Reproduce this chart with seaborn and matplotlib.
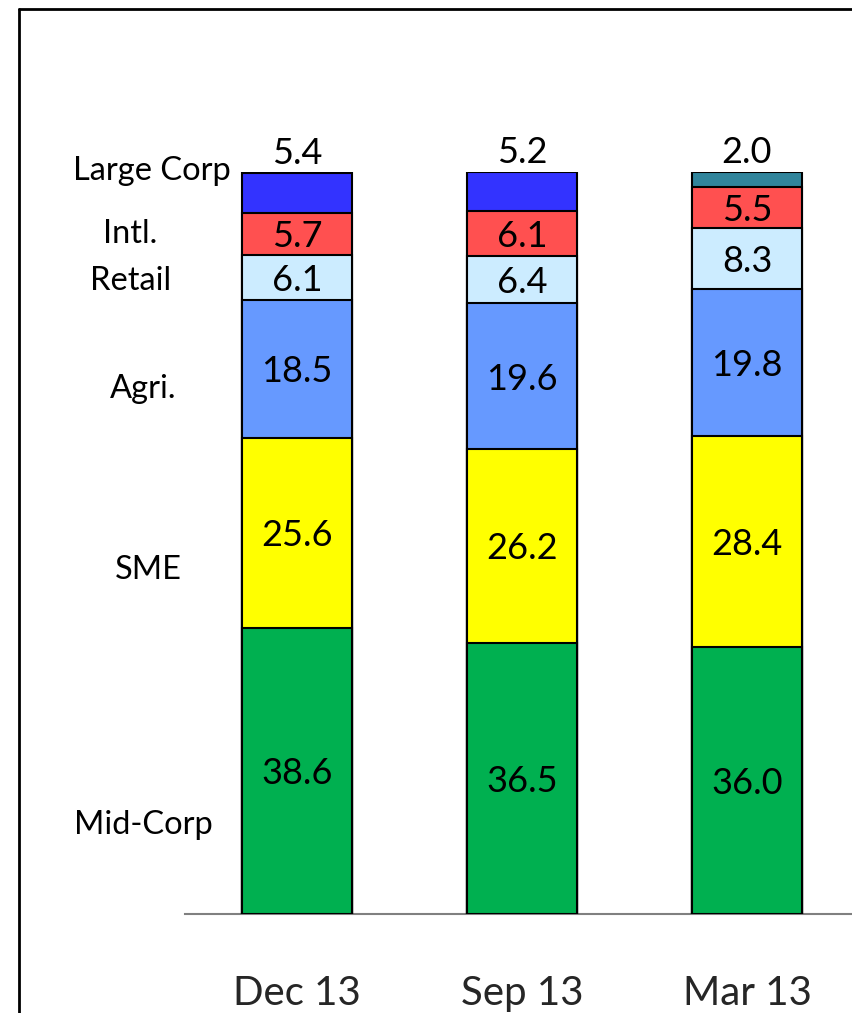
import numpy as np
import pandas as pd
import matplotlib
matplotlib.use("Agg")
import matplotlib.pyplot as plt
from matplotlib.lines import Line2D
import seaborn as sns

# Loan book mix by segment (% share), bottom segment first
periods = ["Dec 13", "Sep 13", "Mar 13"]
segments = ["Mid-Corp", "SME", "Agri.", "Retail", "Intl.", "Large Corp"]
mid_corp = [38.6, 36.5, 36.0]
sme = [25.6, 26.2, 28.4]
agri = [18.5, 19.6, 19.8]
retail = [6.1, 6.4, 8.3]
intl = [5.7, 6.1, 5.5]
large_corp = [5.4, 5.2, 2.0]

values = [mid_corp, sme, agri, retail, intl, large_corp]
seg_colors = ["#00B050", "#FFFF00", "#6699FF", "#CCECFF", "#FF5050", "#3333FF"]
top_colors = {"Dec 13": "#3333FF", "Sep 13": "#3333FF", "Mar 13": "#31859C"}

sns.set_theme(style="white")
plt.rcParams["font.family"] = ["Lato", "DejaVu Sans"]

W, H = 852, 1013
fig = plt.figure(figsize=(W / 100, H / 100), dpi=100)
ax = fig.add_axes([185 / W, 99 / H, (W - 185) / W, 742 / H])

vals = np.array(values)
cum = np.cumsum(vals, axis=0)

# Stack by overlaying cumulative bars, tallest first
for i in range(len(segments) - 1, -1, -1):
    df = pd.DataFrame({"period": periods, "value": cum[i]})
    if i == len(segments) - 1:
        sns.barplot(data=df, x="period", y="value", hue="period",
                    palette=top_colors, saturation=1, legend=False, width=0.49,
                    edgecolor="black", linewidth=1.5, ax=ax, zorder=2 + (6 - i))
    else:
        sns.barplot(data=df, x="period", y="value", color=seg_colors[i],
                    saturation=1, width=0.49, edgecolor="black",
                    linewidth=1.5, ax=ax, zorder=2 + (6 - i))

# Value labels
for j in range(len(periods)):
    for i in range(len(segments)):
        v = vals[i, j]
        top = cum[i, j]
        if i == len(segments) - 1:
            ax.text(j, top + 0.4, f"{v:.1f}", ha="center", va="bottom",
                    fontsize=26, color="black", clip_on=False, zorder=20)
        else:
            ax.text(j, top - v / 2 - 0.4, f"{v:.1f}", ha="center", va="center",
                    fontsize=26, color="black", zorder=20)

# Segment names to the left of the first bar
label_pos = [(-0.684, 12.0), (-0.662, 46.4), (-0.684, 70.7),
             (-0.742, 85.3), (-0.742, 91.7), (-0.644, 100.1)]
for name, (xv, yv) in zip(segments, label_pos):
    ax.text(xv, yv, name, ha="center", va="center", fontsize=23.5,
            color="black", clip_on=False)

ax.set_xlim(-0.498, 2.467)
ax.set_ylim(0, 100)
ax.set_xlabel("")
ax.set_ylabel("")
ax.set_yticks([])
ax.tick_params(axis="x", length=0, pad=44, labelsize=29)
for s in ["top", "right", "left"]:
    ax.spines[s].set_visible(False)
ax.spines["bottom"].set_color("#808080")
ax.spines["bottom"].set_linewidth(1.5)
ax.spines["bottom"].set_zorder(1)
ax.patch.set_alpha(0)

# Outer frame (left and top edges)
fig.add_artist(Line2D([19 / W, 19 / W], [0, 1 - 9 / H], transform=fig.transFigure,
                      color="black", linewidth=2))
fig.add_artist(Line2D([19 / W, 1], [1 - 9 / H, 1 - 9 / H], transform=fig.transFigure,
                      color="black", linewidth=2))

fig.savefig("out.png", dpi=100)
